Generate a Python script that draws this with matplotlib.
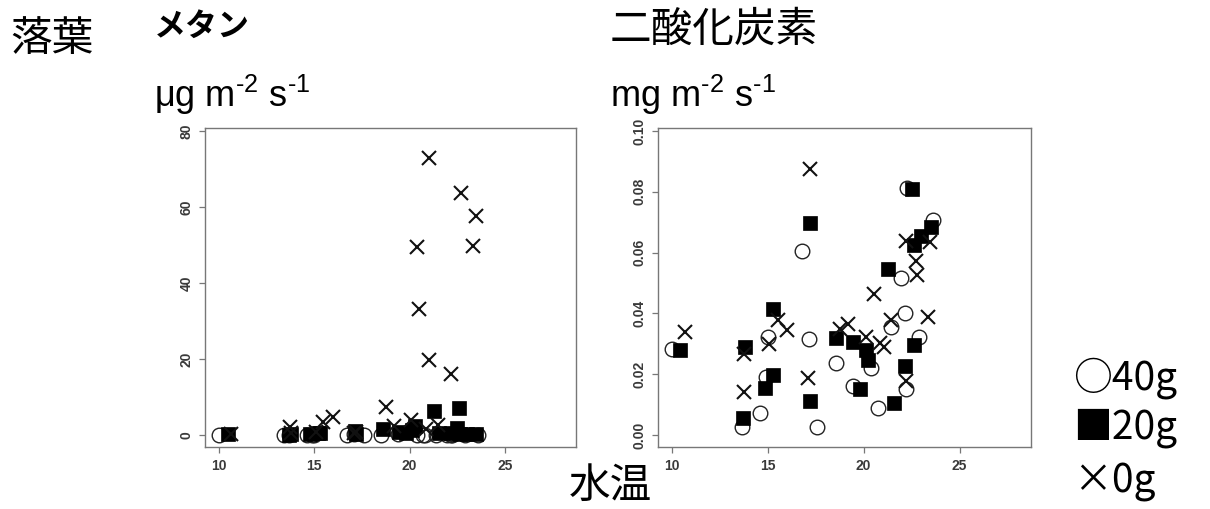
import matplotlib
matplotlib.use("Agg")
import matplotlib.pyplot as plt

plt.rcParams['font.family'] = ['Liberation Sans', 'Noto Sans CJK JP', 'DejaVu Sans']
plt.rcParams['mathtext.fontset'] = 'custom'
plt.rcParams['mathtext.rm'] = 'Liberation Sans'
plt.rcParams['mathtext.it'] = 'Liberation Sans'

# ---------------- data: methane (µg m-2 s-1) ----------------
ch4_t_40 = [10.0, 13.4, 13.7, 14.6, 14.9, 15.0, 16.7, 17.1, 17.6, 18.5, 19.4,
            20.4, 20.7, 20.8, 21.4, 21.95, 22.15, 22.2, 22.3, 22.9, 23.6]
ch4_v_40 = [0.0, 0.0, 0.0, 0.0, 0.0, 0.1, 0.0, 0.3, 0.0, 0.0, 0.2,
            0.0, 0.0, 0.1, 0.0, 0.1, 0.0, 0.0, 0.2, 0.0, 0.0]
ch4_t_20 = [10.5, 13.7, 13.8, 14.8, 15.2, 15.3, 17.15, 17.2, 18.6, 19.45, 19.8,
            20.15, 20.3, 21.3, 21.55, 22.15, 22.5, 22.6, 22.65, 23.0, 23.5]
ch4_v_20 = [0.2, 0.1, 0.2, 0.3, 0.5, 0.6, 1.0, 0.3, 1.5, 0.8, 0.5,
            1.2, 2.4, 6.3, 0.5, 0.6, 1.8, 7.0, 0.3, 0.4, 0.3]
ch4_t_0 = [10.65, 13.75, 13.8, 15.1, 15.45, 16.0, 17.1, 17.2, 18.78, 19.2, 20.05,
           20.4, 20.5, 20.85, 21.02, 21.02, 21.5, 22.18, 22.72, 23.3, 23.5]
ch4_v_0 = [0.3, 2.0, 0.5, 0.8, 3.5, 4.8, 0.5, 0.8, 7.4, 2.5, 4.0,
           49.4, 33.2, 1.5, 72.8, 19.7, 2.6, 16.0, 63.6, 49.7, 57.7]

# ---------------- data: carbon dioxide (mg m-2 s-1) ----------------
co2_t_40 = [10.0, 13.66, 14.58, 14.93, 15.0, 16.77, 17.14, 17.58, 18.54, 19.44,
            20.36, 20.75, 21.4, 21.95, 22.15, 22.2, 22.26, 22.9, 23.6]
co2_v_40 = [0.0284, 0.0027, 0.0074, 0.0191, 0.0322, 0.0604, 0.0317, 0.0025, 0.0238, 0.0160,
            0.0222, 0.0088, 0.0355, 0.0517, 0.0400, 0.0152, 0.0814, 0.0322, 0.0708]
co2_t_20 = [10.45, 13.71, 13.8, 14.84, 15.28, 15.25, 17.19, 17.19, 18.58, 19.44, 19.79,
            20.14, 20.22, 21.27, 21.58, 22.15, 22.52, 22.6, 22.6, 23.0, 23.52]
co2_v_20 = [0.0279, 0.0055, 0.0289, 0.0155, 0.0196, 0.0413, 0.0697, 0.0113, 0.0318, 0.0306, 0.0153,
            0.0279, 0.0246, 0.0547, 0.0106, 0.0227, 0.0809, 0.0297, 0.0626, 0.0656, 0.0685]
co2_t_0 = [10.68, 13.75, 13.75, 15.05, 15.54, 16.0, 17.22, 17.1, 18.75, 19.18, 20.14,
           20.52, 20.83, 21.05, 21.44, 22.22, 22.22, 22.74, 22.8, 23.44, 23.35]
co2_v_0 = [0.0339, 0.0142, 0.0268, 0.0299, 0.0377, 0.0344, 0.0874, 0.0186, 0.0350, 0.0366, 0.0322,
           0.0465, 0.0303, 0.0290, 0.0377, 0.0177, 0.0639, 0.0571, 0.0525, 0.0634, 0.0388]

x_ticks = [10, 15, 20, 25]
ch4_ticks = [0, 20, 40, 60, 80]
co2_ticks = [0.00, 0.02, 0.04, 0.06, 0.08, 0.10]
co2_ticklabels = ["0.00", "0.02", "0.04", "0.06", "0.08", "0.10"]

fig = plt.figure(figsize=(12.10, 5.09), dpi=100)
fig.patch.set_facecolor('white')

ax1 = fig.add_axes([205/1210, 1-447/509, 371/1210, 319/509])
ax2 = fig.add_axes([658/1210, 1-447/509, 373/1210, 319/509])

ms = 10.5
def draw(ax, t40, v40, t20, v20, t0, v0):
    ax.plot(t40, v40, linestyle='none', marker='o', markersize=ms, markerfacecolor='none',
            markeredgecolor='#222222', markeredgewidth=1.0)
    ax.plot(t20, v20, linestyle='none', marker='s', markersize=ms*0.95, markerfacecolor='black',
            markeredgecolor='black', markeredgewidth=0.5)
    ax.plot(t0, v0, linestyle='none', marker='x', markersize=ms, markeredgecolor='#111111',
            markeredgewidth=1.5)
    ax.set_xlim(9.28, 28.72)
    ax.set_xticks(x_ticks)
    ax.set_xticklabels([str(v) for v in x_ticks], fontweight='bold')
    for s in ax.spines.values():
        s.set_color('#777777')
        s.set_linewidth(1.0)
    ax.tick_params(axis='both', colors='#777777', labelcolor='#3a3a3a', labelsize=10,
                   length=4, width=0.9)
    ax.tick_params(axis='x', pad=5)
    ax.tick_params(axis='y', pad=4)

draw(ax1, ch4_t_40, ch4_v_40, ch4_t_20, ch4_v_20, ch4_t_0, ch4_v_0)
ax1.set_ylim(-3.15, 80.8)
ax1.set_yticks(ch4_ticks)
ax1.set_yticklabels([str(v) for v in ch4_ticks], rotation=90, va='center', fontweight='bold')

draw(ax2, co2_t_40, co2_v_40, co2_t_20, co2_v_20, co2_t_0, co2_v_0)
ax2.set_ylim(-0.00394, 0.101)
ax2.set_yticks(co2_ticks)
ax2.set_yticklabels(co2_ticklabels, rotation=90, va='center', fontweight='bold')

cjk = ['Noto Sans CJK JP', 'DejaVu Sans']
lat = ['Liberation Sans', 'DejaVu Sans']
def ftxt(x, y, s, size, family=cjk, ha='left', va='center', weight='normal'):
    fig.text(x/1210, 1-y/509, s, fontsize=size, family=family, ha=ha, va=va,
             color='black', weight=weight)

ftxt(10, 40, "落葉", 30)
ftxt(154, 27, "メタン", 23, weight='bold')
ftxt(610, 30, "二酸化炭素", 30)
ftxt(154, 95, "μg m$^{\u20102}$ s$^{\u20101}$", 26, family=lat)
ftxt(610, 95, "mg m$^{\u20102}$ s$^{\u20101}$", 26, family=lat)
ftxt(610, 486, "水温", 30, ha='center')
ftxt(1073, 378, "○40g", 28)
ftxt(1073, 428, "■20g", 28)
ftxt(1073, 482, "×0g", 28)

fig.savefig("out.png", dpi=100, facecolor='white')
